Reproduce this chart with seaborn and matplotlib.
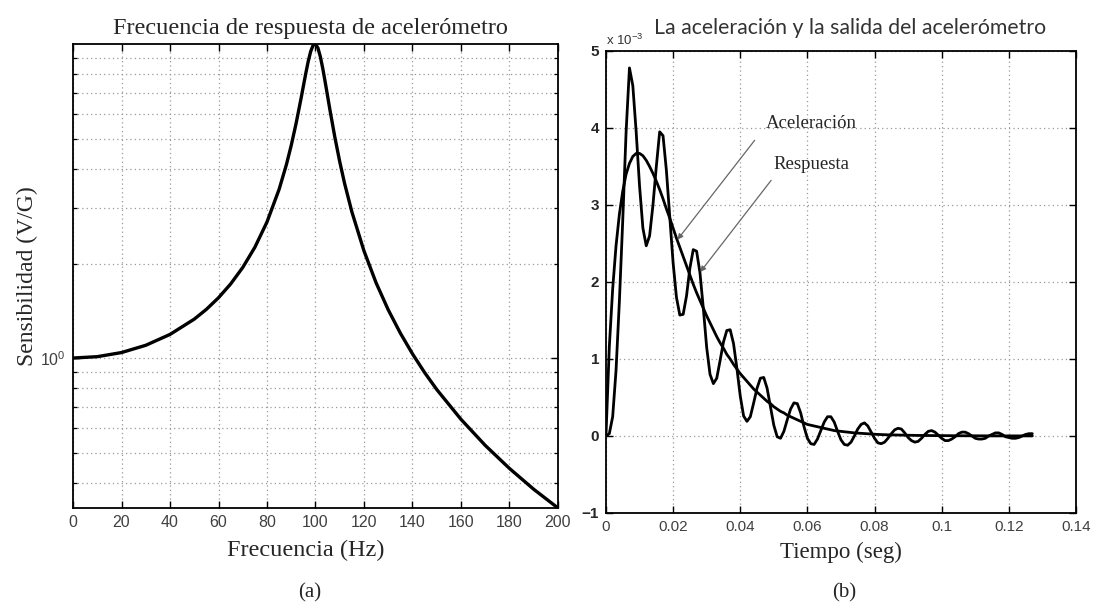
import numpy as np
import matplotlib
matplotlib.use("Agg")
import matplotlib.pyplot as plt
import seaborn as sns
from matplotlib.ticker import FixedLocator, FixedFormatter, NullFormatter

# ---------------- data ----------------
# (a) accelerometer frequency response
frecuencia_hz = [0, 10, 20, 30, 40, 50, 55, 60, 65, 70, 75, 80, 85, 88, 90, 92, 94,
                 96, 97, 98, 99, 100, 101, 102, 103, 104, 106, 108, 110, 112, 115,
                 120, 125, 130, 135, 140, 145, 150, 160, 170, 180, 190, 200]
sensibilidad = [1.000, 1.010, 1.041, 1.098, 1.189, 1.330, 1.429, 1.556, 1.721, 1.943,
                2.253, 2.712, 3.446, 4.129, 4.757, 5.586, 6.684, 8.066, 8.803, 9.461,
                9.903, 10.000, 9.711, 9.115, 8.357, 7.565, 6.142, 5.041, 4.218, 3.597,
                2.921, 2.193, 1.735, 1.424, 1.200, 1.031, 0.899, 0.794, 0.638, 0.527,
                0.445, 0.382, 0.333]
ticks_frecuencia = [0, 20, 40, 60, 80, 100, 120, 140, 160, 180, 200]
ticks_sens_menores = [0.4, 0.5, 0.6, 0.7, 0.8, 0.9, 2, 3, 4, 5, 6, 7, 8, 9]

# (b) acceleration and accelerometer output, sampled every millisecond (x 10^-3)
tiempo_ms = [
    0, 1, 2, 3, 4, 5, 6, 7, 8, 9,
    10, 11, 12, 13, 14, 15, 16, 17, 18, 19,
    20, 21, 22, 23, 24, 25, 26, 27, 28, 29,
    30, 31, 32, 33, 34, 35, 36, 37, 38, 39,
    40, 41, 42, 43, 44, 45, 46, 47, 48, 49,
    50, 51, 52, 53, 54, 55, 56, 57, 58, 59,
    60, 61, 62, 63, 64, 65, 66, 67, 68, 69,
    70, 71, 72, 73, 74, 75, 76, 77, 78, 79,
    80, 81, 82, 83, 84, 85, 86, 87, 88, 89,
    90, 91, 92, 93, 94, 95, 96, 97, 98, 99,
    100, 101, 102, 103, 104, 105, 106, 107, 108, 109,
    110, 111, 112, 113, 114, 115, 116, 117, 118, 119,
    120, 121, 122, 123, 124, 125, 126, 127]
aceleracion = [
    0.00, 1.16, 1.91, 2.47, 2.88, 3.18, 3.40, 3.54, 3.63, 3.67,
    3.67, 3.64, 3.58, 3.50, 3.41, 3.31, 3.20, 3.08, 2.95, 2.83,
    2.70, 2.57, 2.45, 2.33, 2.21, 2.09, 1.97, 1.86, 1.76, 1.66,
    1.56, 1.47, 1.38, 1.29, 1.21, 1.14, 1.06, 1.00, 0.93, 0.87,
    0.81, 0.76, 0.71, 0.66, 0.61, 0.57, 0.53, 0.49, 0.45, 0.42,
    0.38, 0.35, 0.32, 0.30, 0.27, 0.25, 0.23, 0.21, 0.19, 0.17,
    0.15, 0.14, 0.13, 0.12, 0.11, 0.10, 0.09, 0.08, 0.07, 0.065,
    0.06, 0.055, 0.05, 0.045, 0.04, 0.037, 0.034, 0.031, 0.028, 0.025,
    0.022, 0.020, 0.018, 0.016, 0.015, 0.014, 0.013, 0.012, 0.011, 0.010,
    0.009, 0.008, 0.008, 0.007, 0.007, 0.006, 0.006, 0.005, 0.005, 0.005,
    0.004, 0.004, 0.004, 0.003, 0.003, 0.003, 0.003, 0.002, 0.002, 0.002,
    0.002, 0.002, 0.002, 0.001, 0.001, 0.001, 0.001, 0.001, 0.001, 0.001,
    0.001, 0.001, 0.001, 0.001, 0.001, 0.001, 0.001, 0.001]
respuesta = [
    0.00, 0.03, 0.25, 0.85, 1.75, 2.80, 3.95, 4.78, 4.55, 3.95,
    3.25, 2.70, 2.47, 2.60, 3.00, 3.50, 3.95, 3.90, 3.45, 2.85,
    2.25, 1.80, 1.57, 1.58, 1.82, 2.18, 2.42, 2.40, 2.12, 1.66,
    1.15, 0.80, 0.68, 0.75, 0.98, 1.22, 1.37, 1.38, 1.20, 0.88,
    0.52, 0.26, 0.19, 0.25, 0.43, 0.62, 0.75, 0.76, 0.62, 0.38,
    0.14, -0.01, -0.03, 0.06, 0.21, 0.35, 0.43, 0.42, 0.30, 0.12,
    -0.03, -0.10, -0.11, -0.04, 0.07, 0.18, 0.25, 0.25, 0.18, 0.06,
    -0.05, -0.11, -0.12, -0.08, 0.00, 0.09, 0.15, 0.17, 0.13, 0.05,
    -0.03, -0.09, -0.10, -0.08, -0.03, 0.03, 0.08, 0.10, 0.09, 0.04,
    -0.02, -0.06, -0.08, -0.07, -0.03, 0.02, 0.06, 0.07, 0.05, 0.01,
    -0.03, -0.06, -0.06, -0.04, -0.01, 0.03, 0.05, 0.05, 0.03, 0.00,
    -0.03, -0.04, -0.04, -0.03, 0.00, 0.02, 0.04, 0.04, 0.02, -0.01,
    -0.02, -0.03, -0.03, -0.02, 0.00, 0.02, 0.03, 0.03]
ticks_tiempo = [0, 0.02, 0.04, 0.06, 0.08, 0.1, 0.12, 0.14]
etiquetas_tiempo = ["0", "0.02", "0.04", "0.06", "0.08", "0.1", "0.12", "0.14"]
ticks_amplitud = [-1, 0, 1, 2, 3, 4, 5]
etiquetas_amplitud = ["\u22121", "0", "1", "2", "3", "4", "5"]

# ---------------- style ----------------
sns.set_theme(style="ticks")
plt.rcParams["font.family"] = ["Liberation Serif", "DejaVu Serif"]
plt.rcParams["mathtext.fontset"] = "custom"
plt.rcParams["mathtext.rm"] = "Liberation Sans"
plt.rcParams["mathtext.it"] = "Liberation Sans"

SANS = "Liberation Sans"
GRID = dict(color="0.6", linestyle=(0, (1, 2.5)), linewidth=0.9)
TICKLAB = "0.25"

fig = plt.figure(figsize=(10.93, 6.07), dpi=100)
fig.patch.set_facecolor("white")


def frame(ax):
    for s in ax.spines.values():
        s.set_color("black")
        s.set_linewidth(1.3)
    ax.set_facecolor("white")


# ---------------- (a) ----------------
ax1 = fig.add_axes([0.0668, 0.1631, 0.4437, 0.7644])
sns.lineplot(x=frecuencia_hz, y=sensibilidad, ax=ax1, color="black",
             linewidth=2.4, estimator=None, sort=False)
ax1.set_yscale("log")
ax1.set_xlim(0, 200)
ax1.set_ylim(min(sensibilidad), max(sensibilidad))
ax1.xaxis.set_major_locator(FixedLocator(ticks_frecuencia))
ax1.xaxis.set_major_formatter(FixedFormatter([str(v) for v in ticks_frecuencia]))
ax1.yaxis.set_major_locator(FixedLocator([1]))
ax1.yaxis.set_major_formatter(FixedFormatter([r"10$^{0}$"]))
ax1.yaxis.set_minor_locator(FixedLocator(ticks_sens_menores))
ax1.yaxis.set_minor_formatter(NullFormatter())
ax1.grid(True, which="both", axis="y", **GRID)
ax1.grid(True, which="major", axis="x", **GRID)
ax1.tick_params(which="both", direction="in", top=True, right=True,
                color="black", labelsize=11.5, labelcolor=TICKLAB,
                labelfontfamily=SANS, pad=5)
ax1.tick_params(which="major", length=5, width=1.0)
ax1.tick_params(which="minor", length=3, width=0.9)
frame(ax1)
ax1.set_title("Frecuencia de respuesta de acelerómetro", fontsize=17.5, pad=7,
              x=0.49)
ax1.set_xlabel("Frecuencia (Hz)", fontsize=17.5, labelpad=6)
ax1.xaxis.set_label_coords(0.48, -0.068)
ax1.set_ylabel("Sensibilidad (V/G)", fontsize=17, labelpad=2)

# ---------------- (b) ----------------
ax2 = fig.add_axes([0.5544, 0.1549, 0.4300, 0.7611])
t_seg = [v / 1000 for v in tiempo_ms]
sns.lineplot(x=t_seg, y=aceleracion, ax=ax2, color="black",
             linewidth=2.0, estimator=None, sort=False)
sns.lineplot(x=t_seg, y=respuesta, ax=ax2, color="black",
             linewidth=2.0, estimator=None, sort=False)
ax2.set_xlim(0, 0.14)
ax2.set_ylim(-1, 5)
ax2.xaxis.set_major_locator(FixedLocator(ticks_tiempo))
ax2.xaxis.set_major_formatter(FixedFormatter(etiquetas_tiempo))
ax2.yaxis.set_major_locator(FixedLocator(ticks_amplitud))
ax2.yaxis.set_major_formatter(FixedFormatter(etiquetas_amplitud))
ax2.grid(True, which="major", **GRID)
ax2.tick_params(which="major", direction="in", top=True, right=True,
                length=5, width=1.0, color="black", labelsize=11,
                labelcolor=TICKLAB, labelfontfamily=SANS, pad=5)
for lab in ax2.get_yticklabels():
    lab.set_fontweight("bold")
    lab.set_color("0.15")
frame(ax2)
ax2.set_title("La aceleración y la salida del acelerómetro", fontsize=15.3,
              pad=12, x=0.52, family=["Lato", "DejaVu Sans"], color="0.2")
ax2.set_xlabel("Tiempo (seg)", fontsize=16.5, labelpad=6)
ax2.text(0.0, 1.006, r"x 10$^{-3}$", transform=ax2.transAxes, ha="left",
         va="bottom", fontsize=9.5, family=SANS, color="0.2")

flecha = dict(arrowstyle="-|>", color="0.4", lw=0.9, mutation_scale=8,
              shrinkA=0, shrinkB=0)
ax2.annotate("", xy=(0.0213, 2.55), xytext=(0.0443, 3.84), arrowprops=flecha)
ax2.annotate("", xy=(0.0281, 2.13), xytext=(0.0492, 3.32), arrowprops=flecha)
ax2.text(0.0612, 4.06, "Aceleración", ha="center", va="center", fontsize=13.5)
ax2.text(0.0612, 3.52, "Respuesta", ha="center", va="center", fontsize=13.5)

# panel captions
fig.text(0.2830, 0.023, "(a)", ha="center", va="center", fontsize=15)
fig.text(0.7720, 0.023, "(b)", ha="center", va="center", fontsize=15)

fig.savefig("out.png", dpi=100, facecolor="white")
